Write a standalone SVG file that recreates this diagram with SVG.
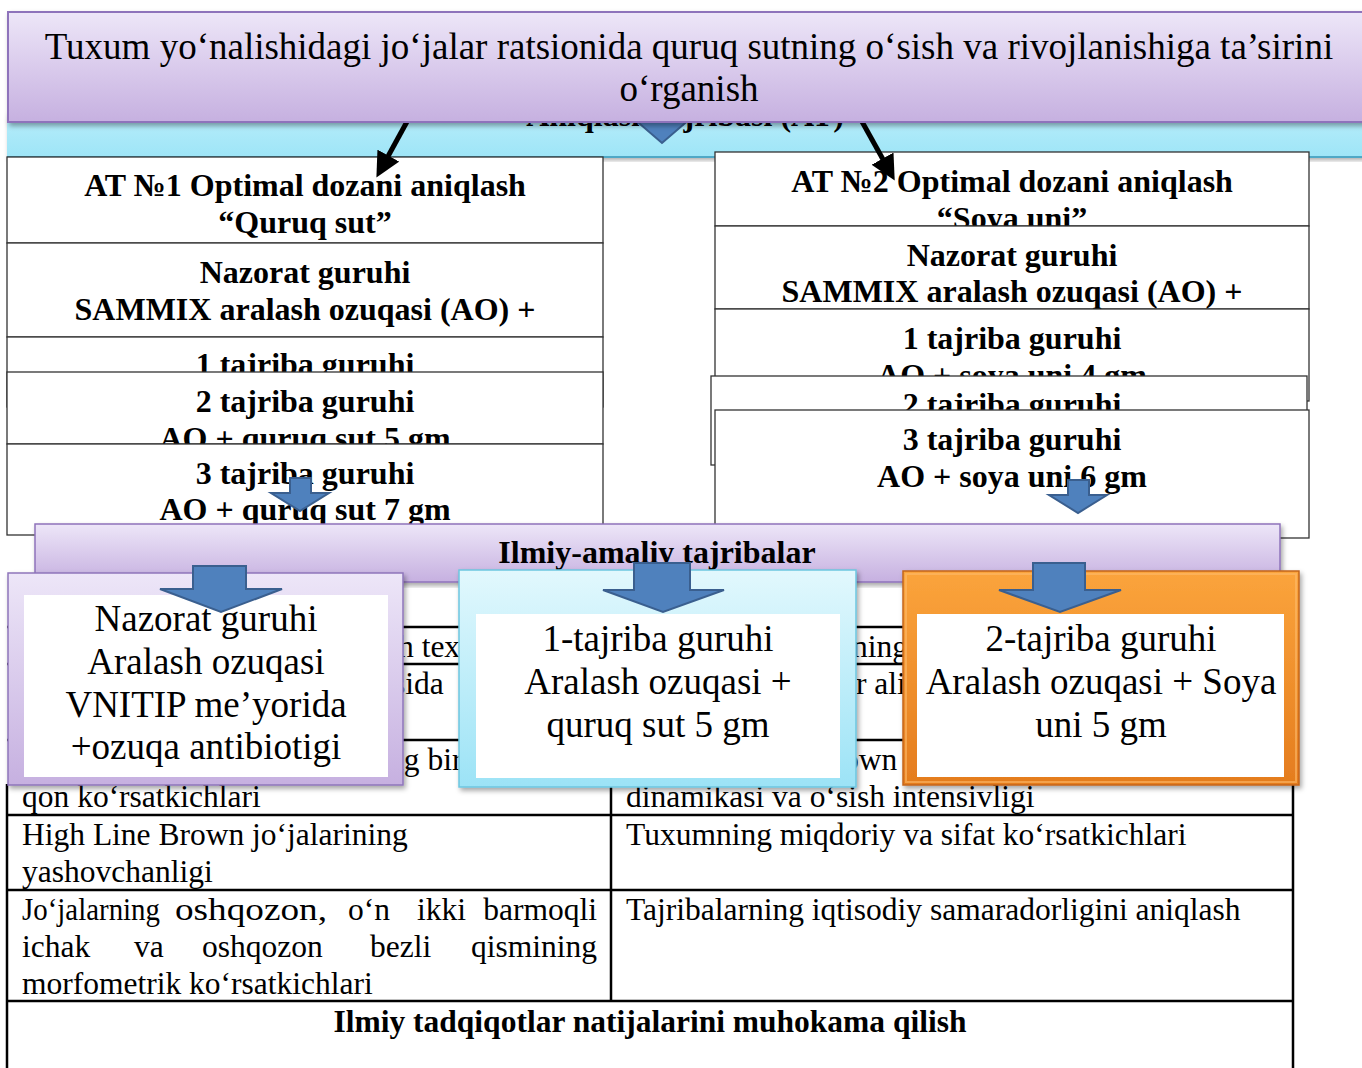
<svg xmlns="http://www.w3.org/2000/svg" width="1362" height="1068" viewBox="0 0 1362 1068">
<defs>
<linearGradient id="gPurple" x1="0" y1="0" x2="0" y2="1"><stop offset="0" stop-color="#EDE6F8"/><stop offset="1" stop-color="#C6B0E0"/></linearGradient>
<linearGradient id="gCyan" x1="0" y1="0" x2="0" y2="1"><stop offset="0" stop-color="#E2F8FD"/><stop offset="1" stop-color="#9CE3F6"/></linearGradient>
<linearGradient id="gBand" x1="0" y1="0" x2="0" y2="1"><stop offset="0" stop-color="#B8EDFA"/><stop offset="1" stop-color="#9EE5F7"/></linearGradient>
<linearGradient id="gOrange" x1="0" y1="0" x2="0" y2="1"><stop offset="0" stop-color="#FBA43C"/><stop offset="1" stop-color="#E47C1E"/></linearGradient>
<filter id="sh" x="-5%" y="-5%" width="112%" height="115%"><feDropShadow dx="2" dy="3" stdDeviation="2.5" flood-color="#000" flood-opacity="0.35"/></filter>
<marker id="ah" markerWidth="5" markerHeight="5" refX="1" refY="2.5" orient="auto" markerUnits="strokeWidth"><path d="M0,0 L5,2.5 L0,5 z" fill="#000"/></marker>
<style>
.bt{font-family:"Liberation Serif","Times New Roman",serif;font-weight:bold;font-size:32px;text-anchor:middle;fill:#000}
.rt{font-family:"Liberation Serif","Times New Roman",serif;font-size:37px;text-anchor:middle;fill:#000}
.tt{font-family:"Liberation Serif","Times New Roman",serif;font-size:31.5px;fill:#000}
.box{fill:#fff;stroke:#333;stroke-width:1.3}
.tl{stroke:#000;stroke-width:2.5;fill:none}
.ba{fill:#4F81BD;stroke:#3A5F8F;stroke-width:2;stroke-linejoin:miter}
.blk{stroke:#000;stroke-width:5;fill:none}
</style>
</defs>

<!-- band behind title -->
<g id="band">
<rect x="7" y="112" width="1365" height="45" fill="url(#gBand)" filter="url(#sh)"/>
<line x1="7" y1="157" x2="1372" y2="157" stroke="#4FA8C6" stroke-width="2"/>
<text class="bt" x="685" y="126">Aniqlash tajribasi (AT)</text>
</g>

<!-- table -->
<g id="table">
<rect x="7" y="627" width="1286" height="460" fill="#fff" stroke="none"/>
<line class="tl" x1="7" y1="627" x2="1293" y2="627"/>
<line class="tl" x1="7" y1="664" x2="1293" y2="664"/>
<line class="tl" x1="7" y1="740" x2="1293" y2="740"/>
<line class="tl" x1="7" y1="815" x2="1293" y2="815"/>
<line class="tl" x1="7" y1="890" x2="1293" y2="890"/>
<line class="tl" x1="7" y1="1001" x2="1293" y2="1001"/>
<line class="tl" x1="7" y1="784" x2="7" y2="1070"/>
<line class="tl" x1="1293" y1="627" x2="1293" y2="1070"/>
<line class="tl" x1="611" y1="627" x2="611" y2="1001"/>
<text class="tt" x="398" y="657">h text</text>
<text class="tt" x="393" y="694">sida</text>
<text class="tt" x="388" y="770">ng bir</text>
<text class="tt" x="22" y="807">qon ko‘rsatkichlari</text>
<text class="tt" x="852" y="657">ning</text>
<text class="tt" x="856" y="694">r ali</text>
<text class="tt" x="843" y="770">own</text>
<text class="tt" x="626" y="807">dinamikasi va o‘sish intensivligi</text>
<text class="tt" x="22" y="845">High Line Brown jo‘jalarining</text>
<text class="tt" x="22" y="882">yashovchanligi</text>
<text class="tt" x="626" y="845">Tuxumning miqdoriy va sifat ko‘rsatkichlari</text>
<text class="tt" x="22" y="920" textLength="138" lengthAdjust="spacingAndGlyphs">Jo‘jalarning</text>
<text class="tt" x="175" y="920" textLength="152" lengthAdjust="spacingAndGlyphs">oshqozon,</text>
<text class="tt" x="348" y="920">o‘n</text>
<text class="tt" x="417" y="920">ikki</text>
<text class="tt" x="597" y="920" text-anchor="end">barmoqli</text>
<text class="tt" x="22" y="957">ichak</text>
<text class="tt" x="134" y="957">va</text>
<text class="tt" x="202" y="957">oshqozon</text>
<text class="tt" x="370" y="957">bezli</text>
<text class="tt" x="597" y="957" text-anchor="end">qismining</text>
<text class="tt" x="22" y="994">morfometrik ko‘rsatkichlari</text>
<text class="tt" x="626" y="920">Tajribalarning iqtisodiy samaradorligini aniqlash</text>
<text class="tt" x="650" y="1032" text-anchor="middle" font-weight="bold" font-size="32">Ilmiy tadqiqotlar natijalarini muhokama qilish</text>
</g>

<!-- left column AT1 -->
<g id="at1-title"><rect class="box" x="7" y="157" width="596" height="86"/><text class="bt" x="305" y="196">AT №1 Optimal dozani aniqlash</text><text class="bt" x="305" y="233">“Quruq sut”</text></g>
<g id="at1-nazorat"><rect class="box" x="7" y="243" width="596" height="94"/><text class="bt" x="305" y="283">Nazorat guruhi</text><text class="bt" x="305" y="320">SAMMIX aralash ozuqasi (AO) +</text></g>
<g id="at1-g1"><rect class="box" x="7" y="337" width="596" height="70"/><text class="bt" x="305" y="375">1 tajriba guruhi</text></g>
<g id="at1-g2"><rect class="box" x="7" y="372" width="596" height="72"/><text class="bt" x="305" y="412">2 tajriba guruhi</text><text class="bt" x="305" y="449">AO + quruq sut 5 gm</text></g>
<g id="at1-g3"><rect class="box" x="7" y="444" width="596" height="91"/><text class="bt" x="305" y="484">3 tajriba guruhi</text><text class="bt" x="305" y="520">AO + quruq sut 7 gm</text></g>

<!-- right column AT2 -->
<g id="at2-title"><rect class="box" x="715" y="152" width="594" height="74"/><text class="bt" x="1012" y="192">AT №2 Optimal dozani aniqlash</text><text class="bt" x="1012" y="229">“Soya uni”</text></g>
<g id="at2-nazorat"><rect class="box" x="715" y="226" width="594" height="83"/><text class="bt" x="1012" y="266">Nazorat guruhi</text><text class="bt" x="1012" y="302">SAMMIX aralash ozuqasi (AO) +</text></g>
<g id="at2-g1"><rect class="box" x="715" y="309" width="594" height="92"/><text class="bt" x="1012" y="349">1 tajriba guruhi</text><text class="bt" x="1012" y="386">AO + soya uni 4 gm</text></g>
<g id="at2-g2"><rect class="box" x="711" y="376" width="596" height="89"/><text class="bt" x="1012" y="415">2 tajriba guruhi</text></g>
<g id="at2-g3"><rect class="box" x="715" y="410" width="594" height="128"/><text class="bt" x="1012" y="450">3 tajriba guruhi</text><text class="bt" x="1012" y="487">AO + soya uni 6 gm</text></g>

<!-- connectors -->
<g id="connectors">
<path class="ba" d="M290,478 H311 V493 H329 L300,511 L271,493 H290 Z"/>
<path class="ba" d="M1068,480 H1089 V495 H1107 L1078,513 L1049,495 H1068 Z"/>
<path class="ba" d="M650,90 H675 V118 H691 L662,143 L633,118 H650 Z"/>
<line class="blk" x1="409" y1="118" x2="386" y2="160" marker-end="url(#ah)"/>
<line class="blk" x1="860" y1="118" x2="885" y2="163" marker-end="url(#ah)"/>
</g>

<!-- bar -->
<g id="bar">
<rect x="35" y="524" width="1245" height="58" fill="url(#gPurple)" stroke="#8E73BB" stroke-width="1.5" filter="url(#sh)"/>
<text class="bt" x="657" y="563">Ilmiy-amaliy tajribalar</text>
</g>

<!-- title -->
<g id="title">
<rect x="8" y="12" width="1362" height="110" fill="url(#gPurple)" stroke="#8E73BB" stroke-width="2" filter="url(#sh)"/>
<text class="rt" x="689" y="59">Tuxum yo‘nalishidagi jo‘jalar ratsionida quruq sutning o‘sish va rivojlanishiga ta’sirini</text>
<text class="rt" x="689" y="101">o‘rganish</text>
</g>

<!-- three groups -->
<g id="nazorat">
<rect x="8" y="573" width="395" height="212" fill="url(#gPurple)" stroke="#8E76BA" stroke-width="1.5" filter="url(#sh)"/>
<rect x="24" y="595" width="364" height="182" fill="#fff"/>
<text class="rt" x="206" y="631">Nazorat guruhi</text>
<text class="rt" x="206" y="674">Aralash ozuqasi</text>
<text class="rt" x="206" y="717">VNITIP me’yorida</text>
<text class="rt" x="206" y="759">+ozuqa antibiotigi</text>
</g>
<g id="tajriba1">
<rect x="459" y="570" width="397" height="217" fill="url(#gCyan)" stroke="#6CC6DF" stroke-width="1.5" filter="url(#sh)"/>
<rect x="476" y="614" width="364" height="164" fill="#fff"/>
<text class="rt" x="658" y="651">1-tajriba guruhi</text>
<text class="rt" x="658" y="694">Aralash ozuqasi +</text>
<text class="rt" x="658" y="737">quruq sut 5 gm</text>
</g>
<g id="tajriba2">
<rect x="903" y="571" width="396" height="214" fill="url(#gOrange)" stroke="#C4651A" stroke-width="1.5" filter="url(#sh)"/>
<rect x="906" y="574" width="390" height="208" fill="none" stroke="#FDBA6A" stroke-width="2" opacity="0.6"/>
<rect x="917" y="614" width="367" height="163" fill="#fff"/>
<text class="rt" x="1101" y="651">2-tajriba guruhi</text>
<text class="rt" x="1101" y="694">Aralash ozuqasi + Soya</text>
<text class="rt" x="1101" y="737">uni 5 gm</text>
</g>

<g id="connectors-top">
<path class="ba" d="M193,566 H246 V589 H282 L221,612 L160,589 H193 Z"/>
<path class="ba" d="M634,563 H690 V590 H724 L663,612 L603,590 H634 Z"/>
<path class="ba" d="M1033,563 H1085 V590 H1121 L1060,612 L999,590 H1033 Z"/>
</g>
</svg>
